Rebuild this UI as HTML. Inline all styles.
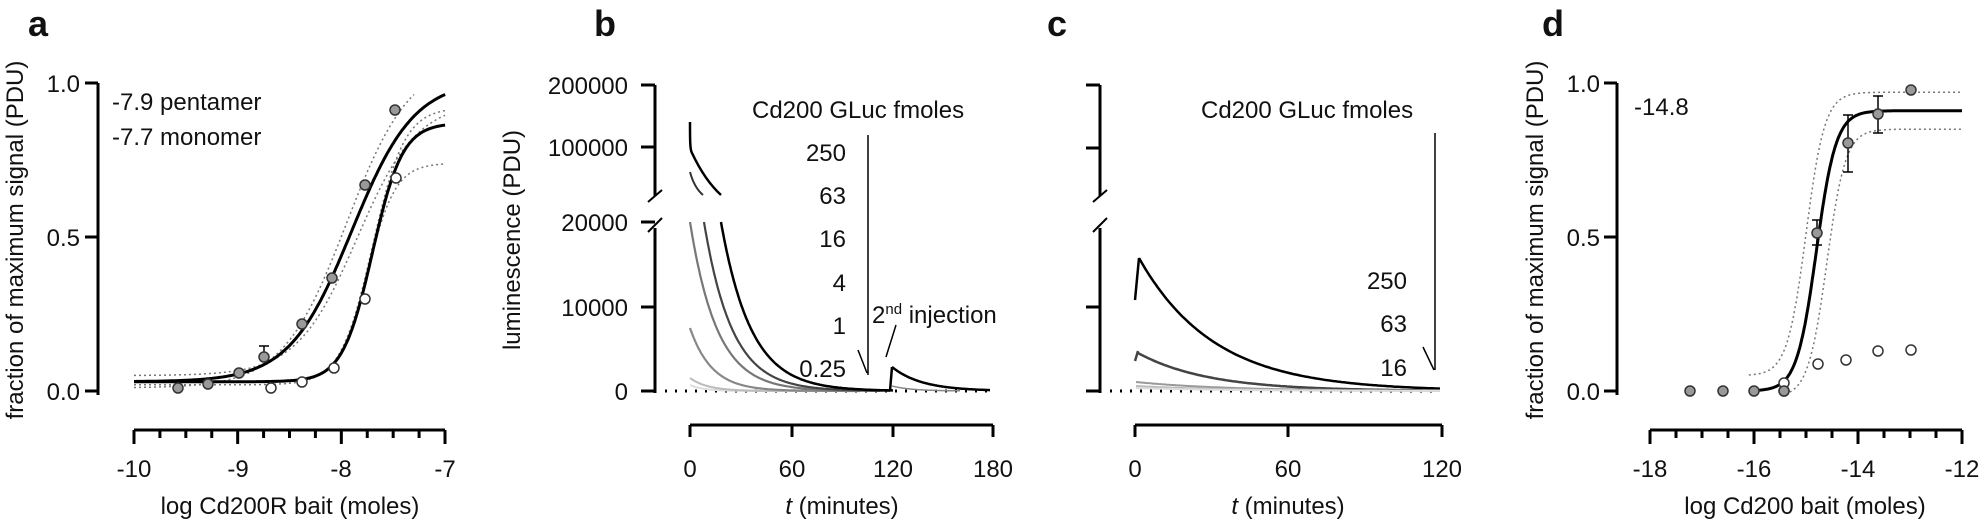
<!DOCTYPE html>
<html><head><meta charset="utf-8"><style>
html,body{margin:0;padding:0;background:#fff;}
svg{display:block;}
text{font-family:"Liberation Sans",Arial,sans-serif;fill:#111;}
</style></head><body>
<svg id="s" width="1982" height="523" viewBox="0 0 1982 523" xmlns="http://www.w3.org/2000/svg">
<g font-size="24">
<text x="28" y="36" font-size="36" font-weight="bold">a</text>
<text x="594" y="36" font-size="36" font-weight="bold">b</text>
<text x="1047" y="36" font-size="36" font-weight="bold">c</text>
<text x="1542" y="36" font-size="36" font-weight="bold">d</text>

<g stroke="#000" stroke-width="3" fill="none">
<path d="M98,83 V395 M85,83 H98 M85,237 H98 M85,391 H98"/>
<path d="M134,430 H445"/>
</g>
<g text-anchor="end"><text x="80" y="92">1.0</text><text x="80" y="246">0.5</text><text x="80" y="400">0.0</text></g>
<g text-anchor="middle"><text x="134" y="477">-10</text><text x="238" y="477">-9</text><text x="341" y="477">-8</text><text x="445" y="477">-7</text>
<text x="290" y="514">log Cd200R bait (moles)</text></g>
<text transform="translate(23,240) rotate(-90)" text-anchor="middle">fraction of maximum signal (PDU)</text>
<text x="112" y="110">-7.9 pentamer</text>
<text x="112" y="145">-7.7 monomer</text>

<g stroke="#000" stroke-width="3" fill="none">
<path d="M655,85 V196 M641,85 H655 M641,147 H655"/>
<path d="M655,228 V393 M641,222 H655 M641,307 H655 M641,391 H655"/>
<path d="M690,425 H993 M690,425 V437 M792,425 V437 M893,425 V437 M993,425 V437"/>
</g>
<g stroke="#000" stroke-width="2"><path d="M648,202 L662,190 M648,232 L662,218"/></g>
<g text-anchor="end"><text x="628" y="94">200000</text><text x="628" y="156">100000</text><text x="628" y="231">20000</text><text x="628" y="316">10000</text><text x="628" y="400">0</text></g>
<g text-anchor="middle"><text x="690" y="477">0</text><text x="792" y="477">60</text><text x="893" y="477">120</text><text x="993" y="477">180</text>
<text x="842" y="514"><tspan font-style="italic">t</tspan> (minutes)</text></g>
<text transform="translate(520,240) rotate(-90)" text-anchor="middle">luminescence (PDU)</text>
<text x="752" y="118">Cd200 GLuc fmoles</text>
<g text-anchor="end"><text x="846" y="161">250</text><text x="846" y="204">63</text><text x="846" y="247">16</text><text x="846" y="291">4</text><text x="846" y="334">1</text><text x="846" y="377">0.25</text></g>
<path d="M868,135 V375 M858,350 L867,373" stroke="#000" stroke-width="1.5" fill="none"/>
<text x="872" y="323">2<tspan font-size="15" dy="-9">nd</tspan><tspan dy="9"> injection</tspan></text>
<path d="M896,325 L886,357" stroke="#000" stroke-width="1.5"/>

<g stroke="#000" stroke-width="3" fill="none">
<path d="M1100,85 V196 M1086,85 H1100 M1086,148 H1100"/>
<path d="M1100,228 V393 M1086,307 H1100 M1086,391 H1100"/>
<path d="M1135,425 H1442 M1135,425 V437 M1288,425 V437 M1442,425 V437"/>
</g>
<g stroke="#000" stroke-width="2"><path d="M1093,202 L1107,190 M1093,232 L1107,218"/></g>
<g text-anchor="middle"><text x="1135" y="477">0</text><text x="1288" y="477">60</text><text x="1442" y="477">120</text>
<text x="1288" y="514"><tspan font-style="italic">t</tspan> (minutes)</text></g>
<text x="1201" y="118">Cd200 GLuc fmoles</text>
<g text-anchor="end"><text x="1407" y="289">250</text><text x="1407" y="332">63</text><text x="1407" y="376">16</text></g>
<path d="M1435,133 V370 M1423,347 L1434,370" stroke="#000" stroke-width="1.5" fill="none"/>

<g stroke="#000" stroke-width="3" fill="none">
<path d="M1617,83 V395 M1604,83 H1617 M1604,237 H1617 M1604,391 H1617"/>
<path d="M1650,430 H1962"/>
</g>
<g text-anchor="end"><text x="1600" y="92">1.0</text><text x="1600" y="246">0.5</text><text x="1600" y="400">0.0</text></g>
<g text-anchor="middle"><text x="1650" y="477">-18</text><text x="1754" y="477">-16</text><text x="1858" y="477">-14</text><text x="1962" y="477">-12</text>
<text x="1805" y="514">log Cd200 bait (moles)</text></g>
<text transform="translate(1543,240) rotate(-90)" text-anchor="middle">fraction of maximum signal (PDU)</text>
<text x="1634" y="115">-14.8</text>
</g>
<g id="dyn"></g>
</svg>
<script>
var g=document.getElementById('dyn'),NS='http://www.w3.org/2000/svg';
function el(t,a){var e=document.createElementNS(NS,t);for(var k in a)e.setAttribute(k,a[k]);g.appendChild(e);return e;}
function curve(f,x0,x1,X,Y,st){var d='';for(var i=0;i<=200;i++){var v=x0+(x1-x0)*i/200;d+=(i?'L':'M')+X(v).toFixed(1)+','+Y(f(v)).toFixed(1);}el('path',Object.assign({d:d,fill:'none'},st));}
var solid={stroke:'#000','stroke-width':3},dot={stroke:'#777','stroke-width':1.5,'stroke-dasharray':'2,3'};
for(var i=0;i<=12;i++){var x=134+i*311/12;el('path',{d:'M'+x+',430 V'+(i%4==0?444:438),stroke:'#000','stroke-width':3});}
var Xa=function(v){return 134+(v+10)*103.7},Ya=function(v){return 391-v*308};
function sig(b,t,e,h){return function(x){return b+(t-b)/(1+Math.pow(10,(e-x)*h));}}
curve(sig(0.01,1.08,-7.95,1.4),-10,-7.3,Xa,Ya,dot);
curve(sig(0.05,0.94,-7.85,1.5),-10,-7,Xa,Ya,dot);
curve(sig(0.02,0.92,-7.7,2.8),-10,-7,Xa,Ya,dot);
curve(sig(0.03,0.74,-7.75,3.2),-10,-7,Xa,Ya,dot);
curve(sig(0.03,1.01,-7.9,1.44),-10,-7,Xa,Ya,solid);
curve(sig(0.03,0.87,-7.7,3.0),-10,-7,Xa,Ya,solid);
el('path',{d:'M264,357 V346 M259,346 H269',stroke:'#000','stroke-width':1.5});
[[178,388],[208,384],[239,373],[264,357],[302,324],[332,278],[365,185],[395,110]].forEach(function(p){el('circle',{cx:p[0],cy:p[1],r:5,fill:'#999',stroke:'#333','stroke-width':1.5});});
[[271,388],[302,382],[334,368],[365,299],[396,178]].forEach(function(p){el('circle',{cx:p[0],cy:p[1],r:5,fill:'#fff',stroke:'#333','stroke-width':1.5});});

el('path',{d:'M665,391 H990',stroke:'#000','stroke-width':3,'stroke-dasharray':'2,8'});
el('path',{d:'M1110,391 H1440',stroke:'#000','stroke-width':3,'stroke-dasharray':'2,8'});
el('path',{d:'M690,122 C690,140 690,150 692,153 C700,170 710,185 721,195',fill:'none',stroke:'#000','stroke-width':2.5});
el('path',{d:'M690,172 C693,183 697,190 703,195',fill:'none',stroke:'#333','stroke-width':2});
function dec(x0,y0,tau,col,w,xend){var d='';for(var i=0;i<=150;i++){var x=x0+(xend-x0)*i/150;var y=391-(391-y0)*Math.exp(-(x-x0)/tau);d+=(i?'L':'M')+x.toFixed(1)+','+y.toFixed(1);}el('path',{d:d,fill:'none',stroke:col,'stroke-width':w});}
dec(690,385,14,'#ddd',2,800);dec(690,378,18,'#bbb',2,830);dec(690,328,22,'#888',2.2,860);
dec(690,222,27,'#777',2.2,880);dec(704,222,28,'#444',2.2,890);dec(721,222,30,'#000',2.5,893);
el('path',{d:'M890,391 L892,367',stroke:'#000','stroke-width':2.5});
dec(892,367,30,'#000',2.5,990);dec(892,386,20,'#888',1.5,960);
el('path',{d:'M1135,300 L1139,258',stroke:'#000','stroke-width':2.5});
dec(1139,258,75,'#000',2.5,1440);
el('path',{d:'M1135,361 L1138,351',stroke:'#444','stroke-width':2.5});
dec(1138,353,70,'#444',2.5,1440);
dec(1136,382,90,'#999',2,1440);dec(1136,386,90,'#bbb',2,1440);dec(1136,388,90,'#ddd',2,1440);
for(var i=0;i<=12;i++){var x=1650+i*26;el('path',{d:'M'+x+',430 V'+(i%4==0?444:438),stroke:'#000','stroke-width':3});}
var Xd=function(v){return 1650+(v+18)*52},Yd=function(v){return 391-v*308};
curve(sig(0.05,0.97,-15.0,2.4),-16.1,-12,Xd,Yd,dot);
curve(sig(-0.02,0.85,-14.6,2.4),-15.4,-12,Xd,Yd,dot);
curve(sig(0,0.91,-14.8,2.3),-16,-12,Xd,Yd,solid);
el('path',{d:'M1848,115 V172 M1843,115 H1853 M1843,172 H1853 M1878,96 V133 M1873,96 H1883 M1873,133 H1883 M1817,220 V245 M1812,220 H1822 M1812,245 H1822',stroke:'#000','stroke-width':1.5});
[[1784,391],[1784,383],[1818,364],[1846,360],[1878,351],[1911,350]].forEach(function(p){el('circle',{cx:p[0],cy:p[1],r:5,fill:'#fff',stroke:'#333','stroke-width':1.5});});
[[1690,391],[1723,391],[1754,391],[1784,391],[1817,233],[1848,143],[1878,114],[1911,90]].forEach(function(p){el('circle',{cx:p[0],cy:p[1],r:5,fill:'#999',stroke:'#333','stroke-width':1.5});});
</script>
</body></html>
